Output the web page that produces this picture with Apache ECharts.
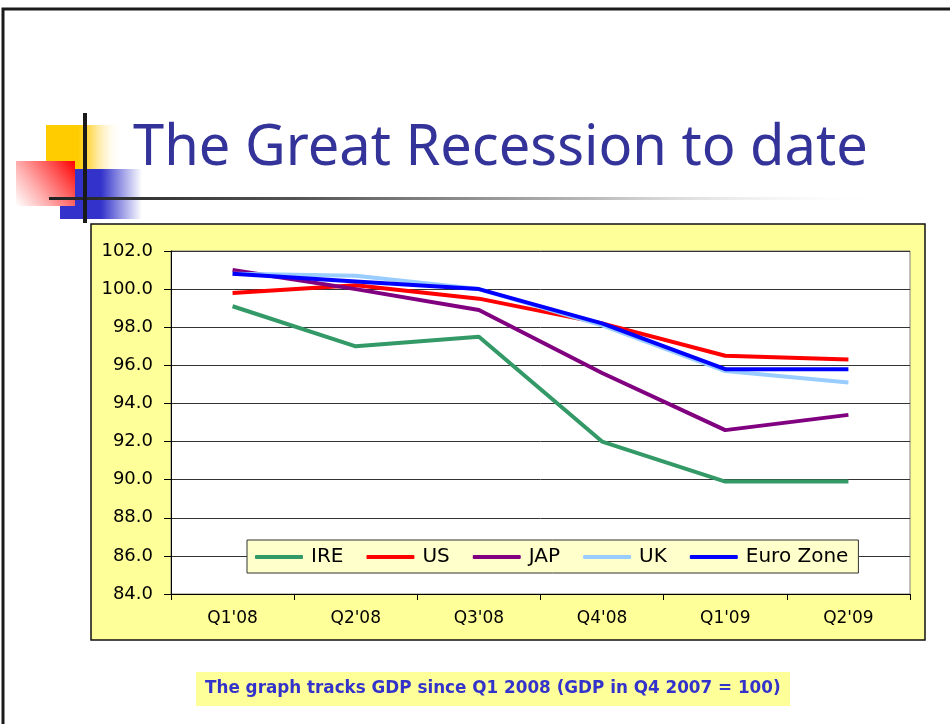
<!DOCTYPE html>
<html>
<head>
<meta charset="utf-8">
<title>The Great Recession to date</title>
<script src="https://cdn.jsdelivr.net/npm/echarts@6/dist/echarts.min.js"></script>
<style>
  html, body { margin: 0; padding: 0; background: #ffffff; }
  #chart { width: 950px; height: 724px; }
</style>
</head>
<body>
<div id="chart"></div>
<script>
// Quarterly GDP index (Q4 2007 = 100)
const quarters = ["Q1'08", "Q2'08", "Q3'08", "Q4'08", "Q1'09", "Q2'09"];
const ire = [99.1, 97.0, 97.5, 92.0, 89.9, 89.9];
const us = [99.8, 100.2, 99.5, 98.2, 96.5, 96.3];
const jap = [101.0, 100.0, 98.9, 95.6, 92.6, 93.4];
const uk = [100.8, 100.7, 100.0, 98.1, 95.7, 95.1];
const euroZone = [100.8, 100.4, 100.0, 98.2, 95.8, 95.8];

const seriesNames = ['IRE', 'US', 'JAP', 'UK', 'Euro Zone'];
const seriesData = [ire, us, jap, uk, euroZone];
const seriesColors = ['#339966', '#ff0000', '#800080', '#99ccff', '#0000ff'];

const chart = echarts.init(document.getElementById('chart'), null, { renderer: 'canvas' });

const axisFont = 'DejaVu Sans';

const option = {
  animation: false,
  backgroundColor: '#ffffff',
  grid: {
    left: 171, top: 251, right: 40, bottom: 130,
    show: true,
    backgroundColor: '#ffffff',
    borderColor: '#808080',
    borderWidth: 1,
    containLabel: false
  },
  legend: {
    data: seriesNames,
    left: 247,
    top: 540,
    orient: 'horizontal',
    backgroundColor: '#ffffcc',
    borderColor: '#333333',
    borderWidth: 1,
    padding: [7, 10, 6, 8],
    itemGap: 23,
    itemWidth: 48,
    itemHeight: 4,
    icon: 'roundRect',
    textStyle: { fontFamily: axisFont, fontSize: 20, color: '#000000', padding: [0, 0, 0, 3] }
  },
  xAxis: {
    type: 'category',
    data: quarters,
    boundaryGap: true,
    axisLine: { show: true, lineStyle: { color: '#000000', width: 1 } },
    axisTick: { show: true, length: 6, inside: false, lineStyle: { color: '#000000' } },
    axisLabel: { fontFamily: axisFont, fontSize: 17, color: '#000000', margin: 16 },
    splitLine: { show: false }
  },
  yAxis: {
    type: 'value',
    min: 84,
    max: 102,
    interval: 2,
    axisLine: { show: true, lineStyle: { color: '#000000', width: 1 } },
    axisTick: { show: true, length: 7, inside: false, lineStyle: { color: '#000000' } },
    axisLabel: {
      fontFamily: axisFont, fontSize: 18, color: '#000000', margin: 18,
      formatter: function (v) { return v.toFixed(1); }
    },
    splitLine: { show: true, lineStyle: { color: '#333333', width: 1 } }
  },
  series: seriesNames.map(function (name, i) {
    return {
      name: name,
      type: 'line',
      data: seriesData[i],
      symbol: 'none',
      smooth: false,
      lineStyle: { color: seriesColors[i], width: 4 },
      itemStyle: { color: seriesColors[i] },
      z: 3 + i
    };
  }),
  graphic: [
    // slide border
    { type: 'rect', z: -20, silent: true, shape: { x: 3, y: 9, width: 960, height: 730 },
      style: { fill: 'none', stroke: '#1a1a1a', lineWidth: 3 } },
    // yellow chart frame
    { type: 'rect', z: -10, silent: true, shape: { x: 91, y: 224, width: 834, height: 416 },
      style: { fill: '#ffff99', stroke: '#111111', lineWidth: 1.5 } },
    // decorative squares
    { type: 'rect', z: -5, silent: true, shape: { x: 46, y: 125, width: 76, height: 44 },
      style: { fill: { type: 'linear', x: 0, y: 0, x2: 1, y2: 0, colorStops: [
        { offset: 0, color: '#ffcc00' }, { offset: 0.42, color: '#ffcc00' },
        { offset: 0.6, color: '#ffdd66' }, { offset: 1, color: 'rgba(255,255,255,0)' } ] } } },
    { type: 'rect', z: -5, silent: true, shape: { x: 60, y: 169, width: 82, height: 50 },
      style: { fill: { type: 'linear', x: 0, y: 0, x2: 1, y2: 0, colorStops: [
        { offset: 0, color: '#3333cc' }, { offset: 0.5, color: '#3333cc' },
        { offset: 1, color: 'rgba(51,51,204,0)' } ] } } },
    { type: 'rect', z: -4, silent: true, shape: { x: 16, y: 161, width: 59, height: 45 },
      style: { fill: { type: 'linear', x: 1, y: 0, x2: 0, y2: 1, colorStops: [
        { offset: 0, color: '#ff0000' }, { offset: 0.3, color: '#ff5555' },
        { offset: 0.65, color: '#ffb0b0' }, { offset: 1, color: '#ffffff' } ] } } },
    // rule lines
    { type: 'rect', z: -3, silent: true, shape: { x: 49, y: 197, width: 840, height: 3 },
      style: { fill: { type: 'linear', x: 0, y: 0, x2: 1, y2: 0, colorStops: [
        { offset: 0, color: '#222222' }, { offset: 0.3, color: '#555555' },
        { offset: 0.65, color: '#bbbbbb' }, { offset: 1, color: 'rgba(255,255,255,0)' } ] } } },
    { type: 'rect', z: -3, silent: true, shape: { x: 83, y: 113, width: 4, height: 110 },
      style: { fill: '#1a1a1a' } },
    // title
    { type: 'text', z: 10, silent: true,
      style: { x: 133, y: 149, verticalAlign: 'middle', text: 'The Great Recession to date',
        fill: '#333399', font: '56px "Noto Sans"' } },
    // caption
    { type: 'rect', z: -5, silent: true, shape: { x: 196, y: 672, width: 594, height: 34 },
      style: { fill: '#ffff99' } },
    { type: 'text', z: 10, silent: true,
      style: { x: 205, y: 689, verticalAlign: 'middle',
        text: 'The graph tracks GDP since Q1 2008 (GDP in Q4 2007 = 100)', fill: '#3333cc',
        font: 'bold 16.8px "DejaVu Sans"' } }
  ]
};

chart.setOption(option);
</script>
</body>
</html>
